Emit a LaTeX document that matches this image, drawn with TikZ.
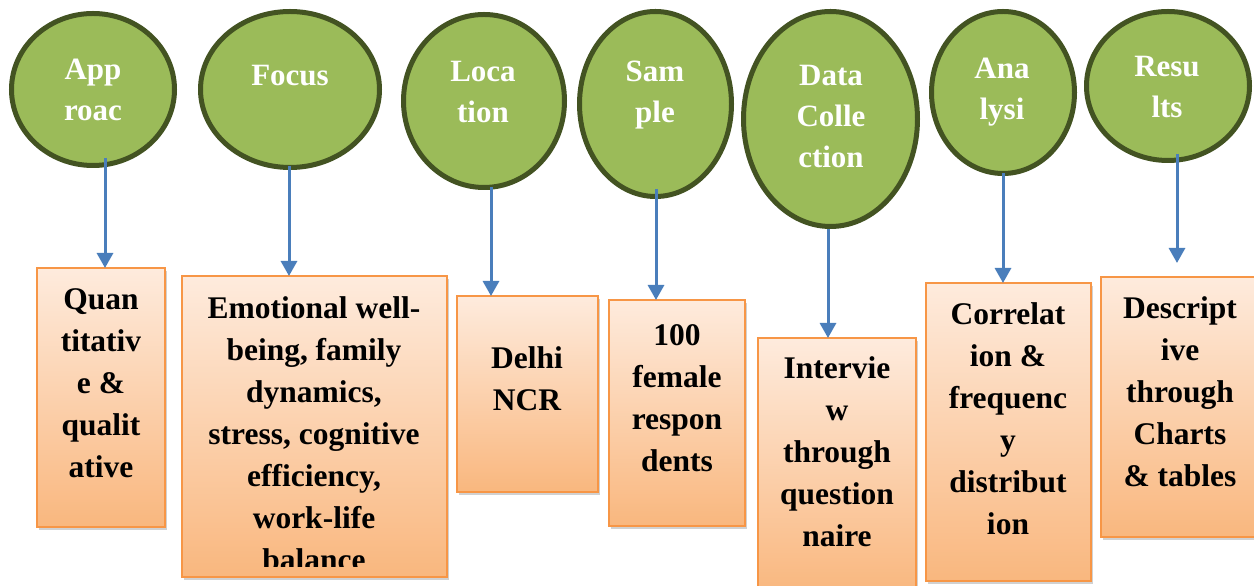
\documentclass[tikz,border=0pt]{standalone}
\usepackage{fontspec}
\setmainfont{Liberation Serif}
\usetikzlibrary{shapes.geometric,arrows.meta,shadows}
\definecolor{olivefill}{HTML}{9BBB59}
\definecolor{olivedark}{HTML}{435322}
\definecolor{boxborder}{HTML}{F79646}
\definecolor{boxtop}{HTML}{FEEBDD}
\definecolor{boxbottom}{HTML}{F9B77E}
\definecolor{arrowblue}{HTML}{4A7EBB}
\tikzset{
  x=1pt, y=1pt,
  bubble/.style={ellipse, draw=olivedark, line width=5pt, fill=olivefill, inner sep=0pt, outer sep=0pt},
  bubbletext/.style={align=center, anchor=base, text=white, inner sep=0pt, font=\fontsize{31}{41}\selectfont\bfseries},
  infobox/.style={rectangle, draw=boxborder, line width=2pt, top color=boxtop, bottom color=boxbottom, inner sep=0pt, outer sep=0pt,
    drop shadow={shadow xshift=2pt, shadow yshift=-3pt, opacity=0.3, fill=black!60}},
  boxtext/.style={align=center, anchor=base, text=black, inner sep=0pt, font=\fontsize{31.5}{42}\selectfont\bfseries},
  link/.style={draw=arrowblue, line width=3pt, -{Triangle[width=16pt,length=15pt]}}
}
\begin{document}
\begin{tikzpicture}
\useasboundingbox (0,0) rectangle (1254,586);
\clip (0,0) rectangle (1254,586);
% ellipses
\node[bubble, minimum width=163, minimum height=152] (e1) at (93,496.5) {};
\node[bubble, minimum width=179, minimum height=156] (e2) at (290,496.5) {};
\node[bubble, minimum width=161, minimum height=173] (e3) at (484,485) {};
\node[bubble, minimum width=152, minimum height=185] (e4) at (655.5,482) {};
\node[bubble, minimum width=174, minimum height=215] (e5) at (830.5,467) {};
\node[bubble, minimum width=143, minimum height=162] (e6) at (1003,493.5) {};
\node[bubble, minimum width=163, minimum height=149] (e7) at (1168,500) {};
% ellipse texts (anchor = baseline of last line)
\node[bubbletext] (t1) at (93,465) {App\\roac};
\node[bubbletext] (t2) at (290,500) {Focus};
\node[bubbletext] (t3) at (483,463) {Loca\\tion};
\node[bubbletext] (t4) at (655,463) {Sam\\ple};
\node[bubbletext] (t5) at (831,418) {Data\\Colle\\ction};
\node[bubbletext] (t6) at (1002,466) {Ana\\lysi};
\node[bubbletext] (t7) at (1167,468) {Resu\\lts};
% boxes
\node[infobox, minimum width=128, minimum height=259] (b1) at (101,188.5) {};
\node[infobox, minimum width=265, minimum height=301] (b2) at (314.5,159.5) {};
\node[infobox, minimum width=141, minimum height=196] (b3) at (527.5,192) {};
\node[infobox, minimum width=136, minimum height=226] (b4) at (677,173) {};
\node[infobox, minimum width=158, minimum height=256] (b5) at (837,120) {};
\node[infobox, minimum width=165, minimum height=298] (b6) at (1008.5,154) {};
\node[infobox, minimum width=160, minimum height=260] (b7) at (1181,179) {};
% box texts (anchor = baseline of last line)
\node[boxtext] (u1) at (101,108) {Quan\\titativ\\e \&\\qualit\\ative};
\begin{scope}
\clip ([xshift=1pt,yshift=-1pt]b2.north west) rectangle ([xshift=-1pt,yshift=10pt]b2.south east);
\node[boxtext] (u2) at (314,15) {Emotional well-\\being, family\\dynamics,\\stress, cognitive\\efficiency,\\work-life\\balance};
\end{scope}
\node[boxtext] (u3) at (527,175) {Delhi\\NCR};
\node[boxtext] (u4) at (677,114) {100\\female\\respon\\dents};
\node[boxtext] (u5) at (837,39) {Intervie\\w\\through\\question\\naire};
\node[boxtext] (u6) at (1008,51) {Correlat\\ion \&\\frequenc\\y\\distribut\\ion};
\node[boxtext] (u7) at (1180,99) {Descript\\ive\\through\\Charts\\\& tables};
% connectors
\draw[link] ([xshift=12pt,yshift=7.5pt]e1.south) -- ([xshift=4pt]b1.north);
\draw[link] ([xshift=-1pt,yshift=1.5pt]e2.south) -- ([xshift=-25.5pt]b2.north);
\draw[link] ([xshift=7pt]e3.south) -- ([xshift=-36.5pt]b3.north);
\draw[link] ([xshift=0.5pt,yshift=7.5pt]e4.south) -- ([xshift=-21pt]b4.north);
\draw[link] ([xshift=-2.5pt,yshift=-2.5pt]e5.south) -- ([xshift=-9pt]b5.north);
\draw[link] (e6.south) -- ([xshift=-5.5pt]b6.north);
\draw[link] ([xshift=9pt,yshift=6.5pt]e7.south) -- ([xshift=-4pt,yshift=14pt]b7.north);
\end{tikzpicture}
\end{document}
